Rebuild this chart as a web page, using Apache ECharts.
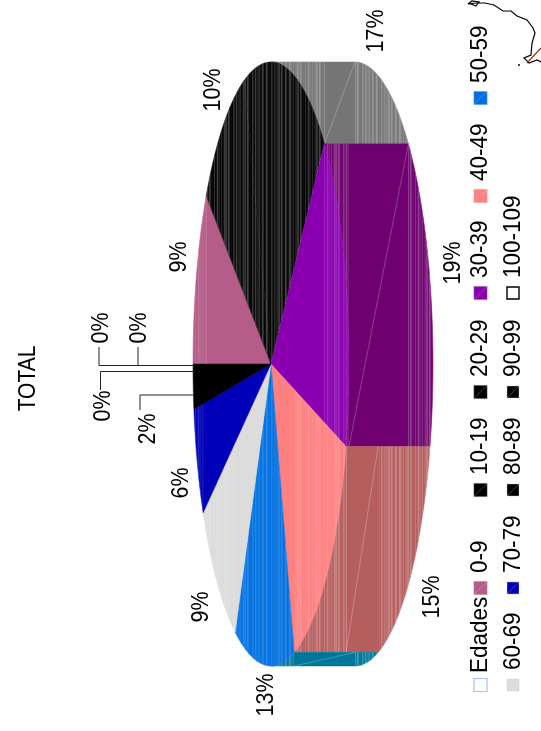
<!DOCTYPE html>
<html><head><meta charset="utf-8">
<style>html,body{margin:0;padding:0;background:#fff}#c{width:541px;height:731px}</style>
<script src="https://cdn.jsdelivr.net/npm/echarts@6/dist/echarts.min.js"></script>
</head><body><div id="c"></div>
<script>
// ---- data ----
const categories = ['0-9','10-19','20-29','30-39','40-49','50-59','60-69','70-79','80-89','90-99','100-109',''];
const values = [9.4,10,17.6,17.4,15.8,12.4,9.2,5.8,2.4,0,0,0];
const percentLabels = ['9%','10%','17%','19%','15%','13%','9%','6%','2%','0%','0%','0%'];
const topColors = ['#b55c88','#000000','#000000','#8a00b0','#ff8080','#0070e0','#dcdcdc','#0000b8','#000000','#000000','#ffffff','#000000'];
const sideColors = ['#80416a','#757575','#757575','#6f006f','#b55e5e','#00769a','#999999','#000080','#333333','#333333','#cccccc','#333333'];
const legendTitle = 'Edades';
const chartTitle = 'TOTAL';

// ---- layout ----
const FONT = '"Liberation Sans", Arial, sans-serif';
const cx = 271, cy = 364, rx = 78, ry = 302, depth = 84;
const labelSpots = [[179,257],[213,90],[376,31],[453,263],[432,597],[266,695],[201,607],[181,483],[148,429],[103,406],[139,328],[101,328]];
const leaders = [
  [[193,395],[140,395],[140,410]],
  [[193,371.5],[100.5,371.5],[100.5,390]],
  [[193,365.5],[138,365.5],[138,347]],
  [[138,365.5],[99,365.5],[99,347]]
];
const legendLayout = [
  [480.5,588],[480.5,490],[480.5,392],[480.5,293],[480.5,196],[480.5,98],
  [513,685],[513,588],[513,490],[513,392],[513,293]
];
const coast = [[468,4],[472,1],[479,2],[476,6],[471,4],[468,4],[476,3],[485,3],[494,5],[503,11],[511,11],[517,16],[527,20],[533,28],[535,33],[532,43],[531,55],[524,58],[529,63],[537,60],[541,62]];
const stripePattern = [.05,.22,.1,.3,.03,.16,.26,.07,.19,.02,.28,.12,.06,.24,.14,.33,.04,.09,.2,.13,.01,.27];

const sum = values.reduce((a,b)=>a+b,0);
const startDeg = i => 180 - values.slice(0,i).reduce((a,b)=>a+b,0)/sum*360;
const pt = (deg,dx) => [cx + rx*Math.cos(deg*Math.PI/180) + (dx||0), cy - ry*Math.sin(deg*Math.PI/180)];
function arc(a,b,dx){const n=Math.max(2,Math.ceil(Math.abs(a-b)/1.5)),o=[];for(let k=0;k<=n;k++)o.push(pt(a+(b-a)*k/n,dx));return o;}
function yRange(poly,x){let lo=Infinity,hi=-Infinity;for(let i=0;i<poly.length;i++){const p=poly[i],q=poly[(i+1)%poly.length];
  if((p[0]<=x&&q[0]>x)||(q[0]<=x&&p[0]>x)){const y=p[1]+(q[1]-p[1])*(x-p[0])/(q[0]-p[0]);lo=Math.min(lo,y);hi=Math.max(hi,y);}}
  return hi>lo?[lo,hi]:null;}
function stripes(poly,x0,x1,scale,out){
  for(let x=Math.floor(x0);x<Math.ceil(x1);x++){
    const r=yRange(poly,x+.5); if(!r) continue;
    const a=stripePattern[(x*7+x%5)%stripePattern.length]*scale;
    out.push({type:'line',silent:true,shape:{x1:x+.5,y1:r[0],x2:x+.5,y2:r[1]},style:{stroke:'rgba(255,255,255,'+a.toFixed(3)+')',lineWidth:1}});
  }
}
const sideItem=(p)=>{
  const i=p.dataIndex; if(!values[i]) return null;
  let a=startDeg(i),b=a-values[i]/sum*360;
  a=Math.min(a,90); b=Math.max(b,-90); if(a<=b) return null;
  const inner=arc(a,b,0), outer=arc(b,a,depth), poly=inner.concat(outer);
  const ch=[{type:'polygon',silent:true,shape:{points:poly},style:{fill:sideColors[i],stroke:sideColors[i],lineWidth:.5}}];
  const xs=inner.map(q=>q[0]), ys=poly.map(q=>q[1]);
  const lo=Math.min(...xs),hi=Math.max(...xs);
  stripes(poly,lo,hi,.8,ch); stripes(poly,lo+depth,hi+depth,.8,ch);
  ch.push({type:'line',silent:true,shape:{x1:lo+depth,y1:Math.min(...ys),x2:hi,y2:Math.max(...ys)},style:{stroke:'rgba(255,255,255,.3)',lineWidth:.8}});
  return {type:'group',children:ch};
};
const topItem=(p)=>{
  const i=p.dataIndex; if(!values[i]) return null;
  const a=startDeg(i),b=a-values[i]/sum*360;
  const ar=arc(a,b,0), poly=[[cx,cy]].concat(ar);
  const ch=[{type:'polygon',silent:true,shape:{points:poly},style:{fill:topColors[i],stroke:topColors[i],lineWidth:.5}}];
  return {type:'group',children:ch};
};
// Seams on the top face are drawn per run of neighbouring same-coloured slices.
const seamItem=(p)=>{
  const i=p.dataIndex; if(!values[i]) return null;
  if(values[i+1]&&topColors[i+1]===topColors[i]) return null;
  let first=i; while(first>0&&topColors[first-1]===topColors[i]) first--;
  const a=startDeg(first),b=startDeg(i)-values[i]/sum*360;
  const ar=arc(a,b,0), poly=[[cx,cy]].concat(ar), xs=ar.map(q=>q[0]), ch=[];
  stripes(poly,Math.min(...xs),Math.max(...xs),first!==i?.8:.5,ch);
  return {type:'group',children:ch};
};
const bigText=(t,x,y,align,fs,stretch)=>({type:'text',silent:true,x,y,rotation:Math.PI/2,scaleY:stretch,style:{text:t,fontSize:fs,fontFamily:FONT,fill:'#000',align:align,verticalAlign:'middle'}});
const labelItem=(p)=>{
  const i=p.dataIndex,s=labelSpots[i];
  return bigText(percentLabels[i],s[0],s[1],'center',21.5,1.15);
};
const rows=values.map((v,i)=>({name:categories[i],value:v}));
const graphics=[bigText(chartTitle,28,378.5,'center',21,1.18)];
leaders.forEach(l=>graphics.push({type:'polyline',silent:true,shape:{points:l},style:{stroke:'#222',lineWidth:1,fill:null}}));
graphics.push({type:'polyline',silent:true,shape:{points:coast},style:{stroke:'#000',lineWidth:1.2,fill:null}});
graphics.push({type:'line',silent:true,shape:{x1:527,y1:63,x2:541,y2:48},style:{stroke:'#a8391c',lineWidth:1.4}});
graphics.push({type:'circle',silent:true,shape:{cx:519,cy:65,r:1},style:{fill:'#000'}});
function swatch(x,y,size,fill,stroke,lw,diag){
  graphics.push({type:'rect',silent:true,shape:{x:x-size/2,y:y-size/2,width:size,height:size},style:{fill,stroke,lineWidth:lw}});
  if(diag) graphics.push({type:'line',silent:true,shape:{x1:x-size/2,y1:y+size/2,x2:x+size/2,y2:y-size/2},style:{stroke:'rgba(255,255,255,.35)',lineWidth:.7}});
}
swatch(480.5,685,13,'#fff','#a8bcff',1.2,false);
graphics.push(bigText(legendTitle,480.5,673,'left',22.5,1.08));
categories.forEach((c,i)=>{
  const l=legendLayout[i]; if(!l) return;
  const white=topColors[i]==='#ffffff', col2=l[0]>500, size=col2?12:13.5;
  swatch(l[0],l[1],size,topColors[i],white?'#000':'rgba(200,200,200,.5)',white?1.4:.8,!white);
  graphics.push(bigText(c,l[0],l[1]-15,'left',22.5,1.08));
});
const chart=echarts.init(document.getElementById('c'));
chart.setOption({
  animation:false,backgroundColor:'#fff',
  series:[
    {type:'custom',coordinateSystem:'none',silent:true,z:1,data:rows,renderItem:sideItem},
    {type:'custom',coordinateSystem:'none',silent:true,z:2,data:rows,renderItem:topItem},
    {type:'custom',coordinateSystem:'none',silent:true,z:3,data:rows,renderItem:seamItem},
    {type:'custom',coordinateSystem:'none',silent:true,z:4,data:rows,renderItem:labelItem}
  ],
  graphic:graphics
});
</script></body></html>
